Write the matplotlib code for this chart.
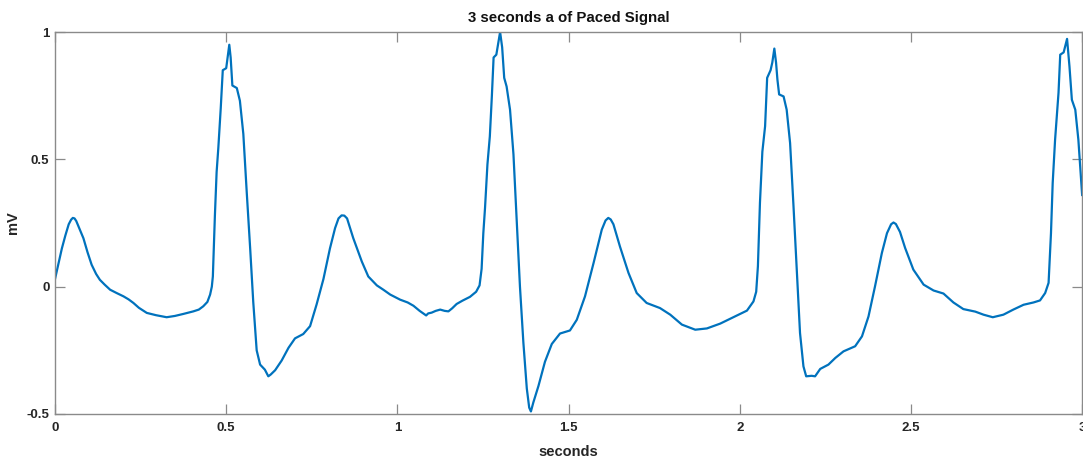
import matplotlib
matplotlib.use("Agg")
import matplotlib.pyplot as plt

# Paced ECG trace, time in seconds and amplitude in mV
t_s = [
    0.000, 0.010, 0.020, 0.030, 0.040, 0.047, 0.052, 0.057, 0.062, 0.070,
    0.083, 0.095, 0.107, 0.120, 0.131, 0.145, 0.161, 0.180, 0.200, 0.215,
    0.229, 0.245, 0.268, 0.295, 0.326, 0.350, 0.375, 0.404, 0.420, 0.433,
    0.445, 0.453, 0.458, 0.461, 0.467, 0.472, 0.477, 0.484, 0.490, 0.500,
    0.504, 0.509, 0.513, 0.518, 0.531, 0.540, 0.550, 0.560, 0.570, 0.579,
    0.589, 0.599, 0.613, 0.623, 0.630, 0.643, 0.662, 0.682, 0.701, 0.725,
    0.745, 0.764, 0.784, 0.803, 0.818, 0.828, 0.837, 0.845, 0.853, 0.871,
    0.896, 0.915, 0.940, 0.959, 0.979, 1.008, 1.030, 1.047, 1.065, 1.084,
    1.090, 1.100, 1.112, 1.125, 1.138, 1.149, 1.160, 1.173, 1.190, 1.212,
    1.230, 1.240, 1.246, 1.251, 1.256, 1.263, 1.270, 1.276, 1.281, 1.289,
    1.295, 1.300, 1.306, 1.312, 1.319, 1.329, 1.339, 1.349, 1.358, 1.368,
    1.378, 1.385, 1.390, 1.397, 1.412, 1.431, 1.451, 1.475, 1.504, 1.524,
    1.548, 1.573, 1.597, 1.608, 1.616, 1.623, 1.631, 1.650, 1.675, 1.699,
    1.728, 1.767, 1.797, 1.831, 1.870, 1.904, 1.943, 1.981, 2.021, 2.040,
    2.048, 2.053, 2.059, 2.066, 2.074, 2.080, 2.090, 2.095, 2.101, 2.106,
    2.110, 2.115, 2.128, 2.137, 2.147, 2.157, 2.167, 2.176, 2.186, 2.194,
    2.210, 2.220, 2.235, 2.259, 2.279, 2.303, 2.337, 2.357, 2.376, 2.395,
    2.415, 2.430, 2.442, 2.449, 2.456, 2.468, 2.483, 2.507, 2.537, 2.566,
    2.595, 2.624, 2.653, 2.688, 2.712, 2.739, 2.770, 2.799, 2.829, 2.858,
    2.877, 2.892, 2.902, 2.909, 2.914, 2.921, 2.931, 2.936, 2.946, 2.956,
    2.963, 2.970, 2.980, 2.989, 3.000,
]
mv = [
    0.030, 0.090, 0.150, 0.200, 0.245, 0.263, 0.270, 0.268, 0.258, 0.232,
    0.190, 0.135, 0.086, 0.050, 0.027, 0.008, -0.012, -0.025, -0.038, -0.050,
    -0.064, -0.083, -0.103, -0.112, -0.120, -0.115, -0.107, -0.097, -0.090, -0.077,
    -0.060, -0.031, 0.000, 0.040, 0.280, 0.450, 0.545, 0.700, 0.850, 0.858,
    0.900, 0.950, 0.900, 0.790, 0.780, 0.730, 0.600, 0.370, 0.150, -0.060,
    -0.250, -0.306, -0.326, -0.352, -0.345, -0.328, -0.290, -0.240, -0.203, -0.186,
    -0.155, -0.070, 0.030, 0.150, 0.230, 0.268, 0.280, 0.279, 0.268, 0.191,
    0.099, 0.040, 0.005, -0.012, -0.031, -0.051, -0.062, -0.075, -0.095, -0.113,
    -0.105, -0.102, -0.095, -0.090, -0.095, -0.097, -0.085, -0.068, -0.055, -0.040,
    -0.020, 0.005, 0.070, 0.210, 0.310, 0.480, 0.590, 0.750, 0.900, 0.911,
    0.960, 1.000, 0.940, 0.820, 0.786, 0.695, 0.520, 0.250, 0.000, -0.220,
    -0.400, -0.475, -0.490, -0.455, -0.390, -0.295, -0.225, -0.184, -0.172, -0.130,
    -0.038, 0.093, 0.224, 0.260, 0.270, 0.264, 0.245, 0.158, 0.054, -0.025,
    -0.064, -0.084, -0.110, -0.149, -0.169, -0.164, -0.145, -0.120, -0.094, -0.058,
    -0.020, 0.080, 0.330, 0.530, 0.630, 0.820, 0.850, 0.880, 0.935, 0.880,
    0.813, 0.755, 0.747, 0.695, 0.564, 0.315, 0.054, -0.182, -0.313, -0.352,
    -0.350, -0.352, -0.323, -0.306, -0.280, -0.254, -0.234, -0.195, -0.117, 0.001,
    0.132, 0.210, 0.245, 0.252, 0.246, 0.215, 0.152, 0.067, 0.008, -0.015,
    -0.027, -0.062, -0.088, -0.098, -0.110, -0.120, -0.110, -0.090, -0.071, -0.062,
    -0.054, -0.025, 0.015, 0.210, 0.407, 0.577, 0.761, 0.911, 0.920, 0.973,
    0.865, 0.734, 0.695, 0.577, 0.360,
]

x_ticks = [0, 0.5, 1, 1.5, 2, 2.5, 3]
x_tick_labels = ["0", "0.5", "1", "1.5", "2", "2.5", "3"]
y_ticks = [-0.5, 0, 0.5, 1]
y_tick_labels = ["-0.5", "0", "0.5", "1"]

plt.rcParams["font.family"] = ["Liberation Sans", "DejaVu Sans"]

fig = plt.figure(figsize=(10.83, 4.62), dpi=100)
ax = fig.add_axes([0.0508, 0.1039, 0.9484, 0.8268])

ax.plot(t_s, mv, color="#0072BD", linewidth=1.6, solid_joinstyle="round")

ax.set_xlim(0, 3)
ax.set_ylim(-0.5, 1)
ax.set_xticks(x_ticks)
ax.set_xticklabels(x_tick_labels, fontweight="bold", fontsize=9.5, color="#262626")
ax.set_yticks(y_ticks)
ax.set_yticklabels(y_tick_labels, fontweight="bold", fontsize=9.5, color="#262626")

ax.tick_params(direction="in", length=7, width=0.9, color="#8a8a8a",
               top=True, right=True)
ax.tick_params(axis="x", pad=6)
ax.tick_params(axis="y", pad=4)
for spine in ax.spines.values():
    spine.set_color("#8a8a8a")
    spine.set_linewidth(1.0)

ax.set_title("3 seconds a of Paced Signal", fontsize=10.8, fontweight="bold",
             color="#111111", pad=7)
ax.set_xlabel("seconds", fontsize=10.5, fontweight="bold", color="#262626", labelpad=8)
ax.set_ylabel("mV", fontsize=10.5, fontweight="bold", color="#262626", labelpad=5)

fig.savefig("out.png", dpi=100, facecolor="white")
